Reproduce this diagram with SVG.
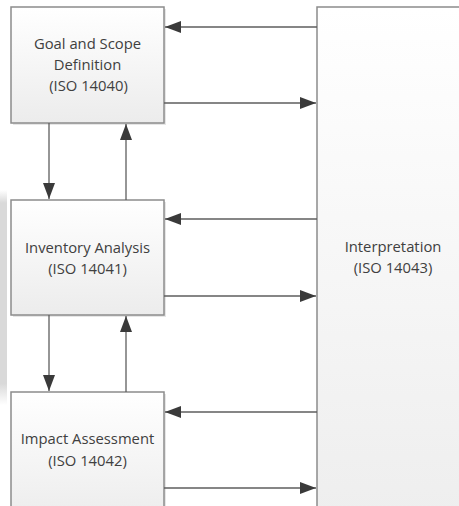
<svg xmlns="http://www.w3.org/2000/svg" width="459" height="506" viewBox="0 0 459 506">
<defs>
<linearGradient id="gBox" x1="0" y1="0" x2="0" y2="1">
<stop offset="0" stop-color="#ffffff"/>
<stop offset="1" stop-color="#ececec"/>
</linearGradient>
<linearGradient id="gInt" x1="0" y1="0" x2="0" y2="1">
<stop offset="0" stop-color="#ffffff"/>
<stop offset="1" stop-color="#eeeeee"/>
</linearGradient>
<linearGradient id="gStrip" x1="0" y1="0" x2="0" y2="1">
<stop offset="0" stop-color="#d9d9d9" stop-opacity="0"/>
<stop offset="0.06" stop-color="#d9d9d9"/>
<stop offset="0.9" stop-color="#d9d9d9"/>
<stop offset="1" stop-color="#d9d9d9" stop-opacity="0"/>
</linearGradient>
<marker id="ah" viewBox="0 0 16 12" refX="16" refY="6" markerWidth="16" markerHeight="12" markerUnits="userSpaceOnUse" orient="auto">
<path d="M0,0 L16,6 L0,12 Z" fill="#3a3a3a"/>
</marker>
<style>
.box{stroke:#8c8c8c;stroke-width:1.5}
.shadow{fill:#e6e6e6}
.lbl{font-family:"Open Sans","Liberation Sans",sans-serif;font-size:14.8px;fill:#404040;text-anchor:middle}
.conn{stroke:#5e5e5e;stroke-width:1.3;fill:none;marker-end:url(#ah)}
</style>
</defs>
<rect x="0" y="190" width="7" height="215" fill="url(#gStrip)"/>
<g id="interpretation">
<rect class="shadow" x="319" y="9" width="142" height="510"/>
<rect class="box" x="317" y="7" width="150" height="510" fill="url(#gInt)"/>
<text class="lbl" x="393" y="252">Interpretation</text>
<text class="lbl" x="393" y="273">(ISO 14043)</text>
</g>
<g id="goal">
<rect class="shadow" x="13" y="9" width="153" height="116"/>
<rect class="box" x="11" y="7" width="153" height="116" fill="url(#gBox)"/>
<text class="lbl" x="87.5" y="49">Goal and Scope</text>
<text class="lbl" x="87.5" y="70">Definition</text>
<text class="lbl" x="88.5" y="91">(ISO 14040)</text>
</g>
<g id="inventory">
<rect class="shadow" x="13" y="202" width="153" height="115"/>
<rect class="box" x="11" y="200" width="153" height="115" fill="url(#gBox)"/>
<text class="lbl" x="87.5" y="253">Inventory Analysis</text>
<text class="lbl" x="87.5" y="274">(ISO 14041)</text>
</g>
<g id="impact">
<rect class="shadow" x="13" y="394" width="153" height="130"/>
<rect class="box" x="11" y="392" width="153" height="130" fill="url(#gBox)"/>
<text class="lbl" x="87.5" y="444">Impact Assessment</text>
<text class="lbl" x="87.5" y="466">(ISO 14042)</text>
</g>
<g id="connectors">
<line class="conn" x1="317" y1="27" x2="165" y2="27"/>
<line class="conn" x1="164" y1="103" x2="316" y2="103"/>
<line class="conn" x1="317" y1="219" x2="165" y2="219"/>
<line class="conn" x1="164" y1="296" x2="316" y2="296"/>
<line class="conn" x1="317" y1="412" x2="165" y2="412"/>
<line class="conn" x1="164" y1="488" x2="316" y2="488"/>
<line class="conn" x1="49" y1="123" x2="49" y2="199"/>
<line class="conn" x1="126" y1="200" x2="126" y2="124"/>
<line class="conn" x1="49" y1="315" x2="49" y2="391"/>
<line class="conn" x1="126" y1="392" x2="126" y2="316"/>
</g>
</svg>
